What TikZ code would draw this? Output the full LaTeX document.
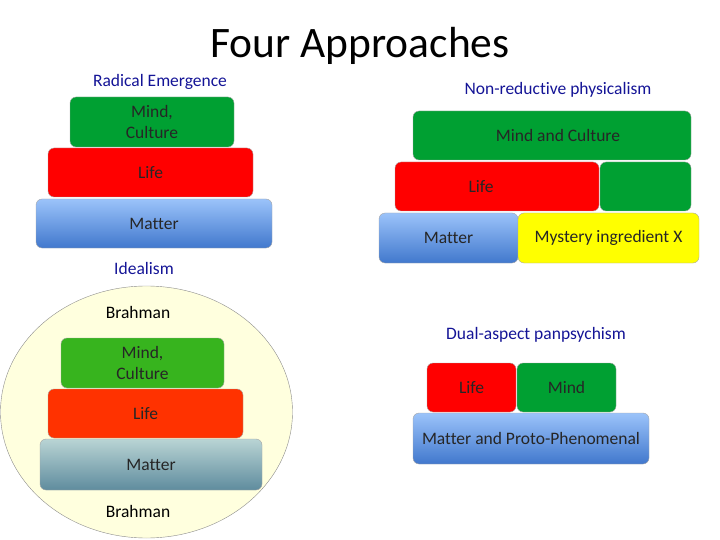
\documentclass[tikz,border=0pt]{standalone}
\usepackage{fontspec}
\setmainfont{Carlito}[Ligatures=CommonOff]
\usetikzlibrary{positioning}
\definecolor{cHead}{RGB}{20,20,150}
\definecolor{cGreen}{RGB}{0,160,50}
\definecolor{cGreenB}{RGB}{55,180,30}
\definecolor{cRed}{RGB}{255,0,0}
\definecolor{cOrange}{RGB}{255,50,0}
\definecolor{cBlueT}{RGB}{155,195,250}
\definecolor{cBlueB}{RGB}{65,120,205}
\definecolor{cTealT}{RGB}{185,212,212}
\definecolor{cTealB}{RGB}{95,140,158}
\definecolor{cYellow}{RGB}{255,255,0}
\definecolor{cCream}{RGB}{255,255,222}

\begin{document}
\begin{tikzpicture}[
    x=1pt, y=-1pt,
    layer/.style={rectangle,draw=black!35,rounded corners=6pt,inner sep=0pt,
      font=\fontsize{17.5}{21}\selectfont,text=black!85,align=center},
    heading/.style={font=\fontsize{17.5}{21}\selectfont,text=cHead},
    plain/.style={font=\fontsize{17.5}{21}\selectfont,text=black}
  ]
  \useasboundingbox (0,0) rectangle (720,540);
  \node[font=\fontsize{43.5}{50}\selectfont] (title) at (360,46) {Four Approaches};

  % Radical Emergence
  \node[heading] (reHead) at (160,82) {Radical Emergence};
  \node[layer,fill=cGreen,minimum width=164pt,minimum height=50pt] (reMind) at (152,122) {Mind,\\Culture};
  \node[layer,fill=cRed,minimum width=205pt,minimum height=49pt] (reLife) at (150.5,172.5) {Life};
  \node[layer,top color=cBlueT,bottom color=cBlueB,minimum width=236pt,minimum height=49pt] (reMatter) at (154,223.5) {Matter};

  % Non-reductive physicalism
  \node[heading] (npHead) at (558,90) {Non-reductive physicalism};
  \node[layer,fill=cGreen,minimum width=91pt,minimum height=49pt] (npMindLow) at (645.5,186.5) {};
  \node[layer,fill=cGreen,minimum width=278pt,minimum height=49pt] (npMind) at (552,135.5) {\hspace*{12pt}Mind and Culture};
  \node[layer,fill=cRed,minimum width=204pt,minimum height=49pt] (npLife) at (497,186.5) {Life\hspace*{32pt}};
  \node[layer,top color=cBlueT,bottom color=cBlueB,minimum width=139pt,minimum height=50pt] (npMatter) at (448.5,238) {Matter};
  \node[layer,fill=cYellow,minimum width=181pt,minimum height=50pt] (npX) at (608.5,238) {Mystery ingredient X};

  % Idealism
  \node[heading] (idHead) at (144,268) {Idealism};
  \draw[draw=black!45,fill=cCream] (146.5,412) ellipse [x radius=146pt,y radius=126pt];
  \node[plain] (idTop) at (138,312) {Brahman};
  \node[layer,fill=cGreenB,minimum width=163pt,minimum height=50pt] (idMind) at (142.5,363) {Mind,\\Culture};
  \node[layer,fill=cOrange,minimum width=195pt,minimum height=49pt] (idLife) at (145.5,413.5) {Life};
  \node[layer,top color=cTealT,bottom color=cTealB,minimum width=222pt,minimum height=51pt] (idMatter) at (151,464.5) {Matter};
  \node[plain] (idBottom) at (138,511) {Brahman};

  % Dual-aspect panpsychism
  \node[heading] (daHead) at (536,335) {Dual-aspect panpsychism};
  \node[layer,fill=cRed,minimum width=89pt,minimum height=49pt] (daLife) at (471.5,387.5) {Life};
  \node[layer,fill=cGreen,minimum width=99pt,minimum height=49pt] (daMind) at (566.5,387.5) {Mind};
  \node[layer,top color=cBlueT,bottom color=cBlueB,minimum width=236pt,minimum height=51pt] (daMatter) at (531,438.5) {Matter and Proto-Phenomenal};
\end{tikzpicture}
\end{document}
